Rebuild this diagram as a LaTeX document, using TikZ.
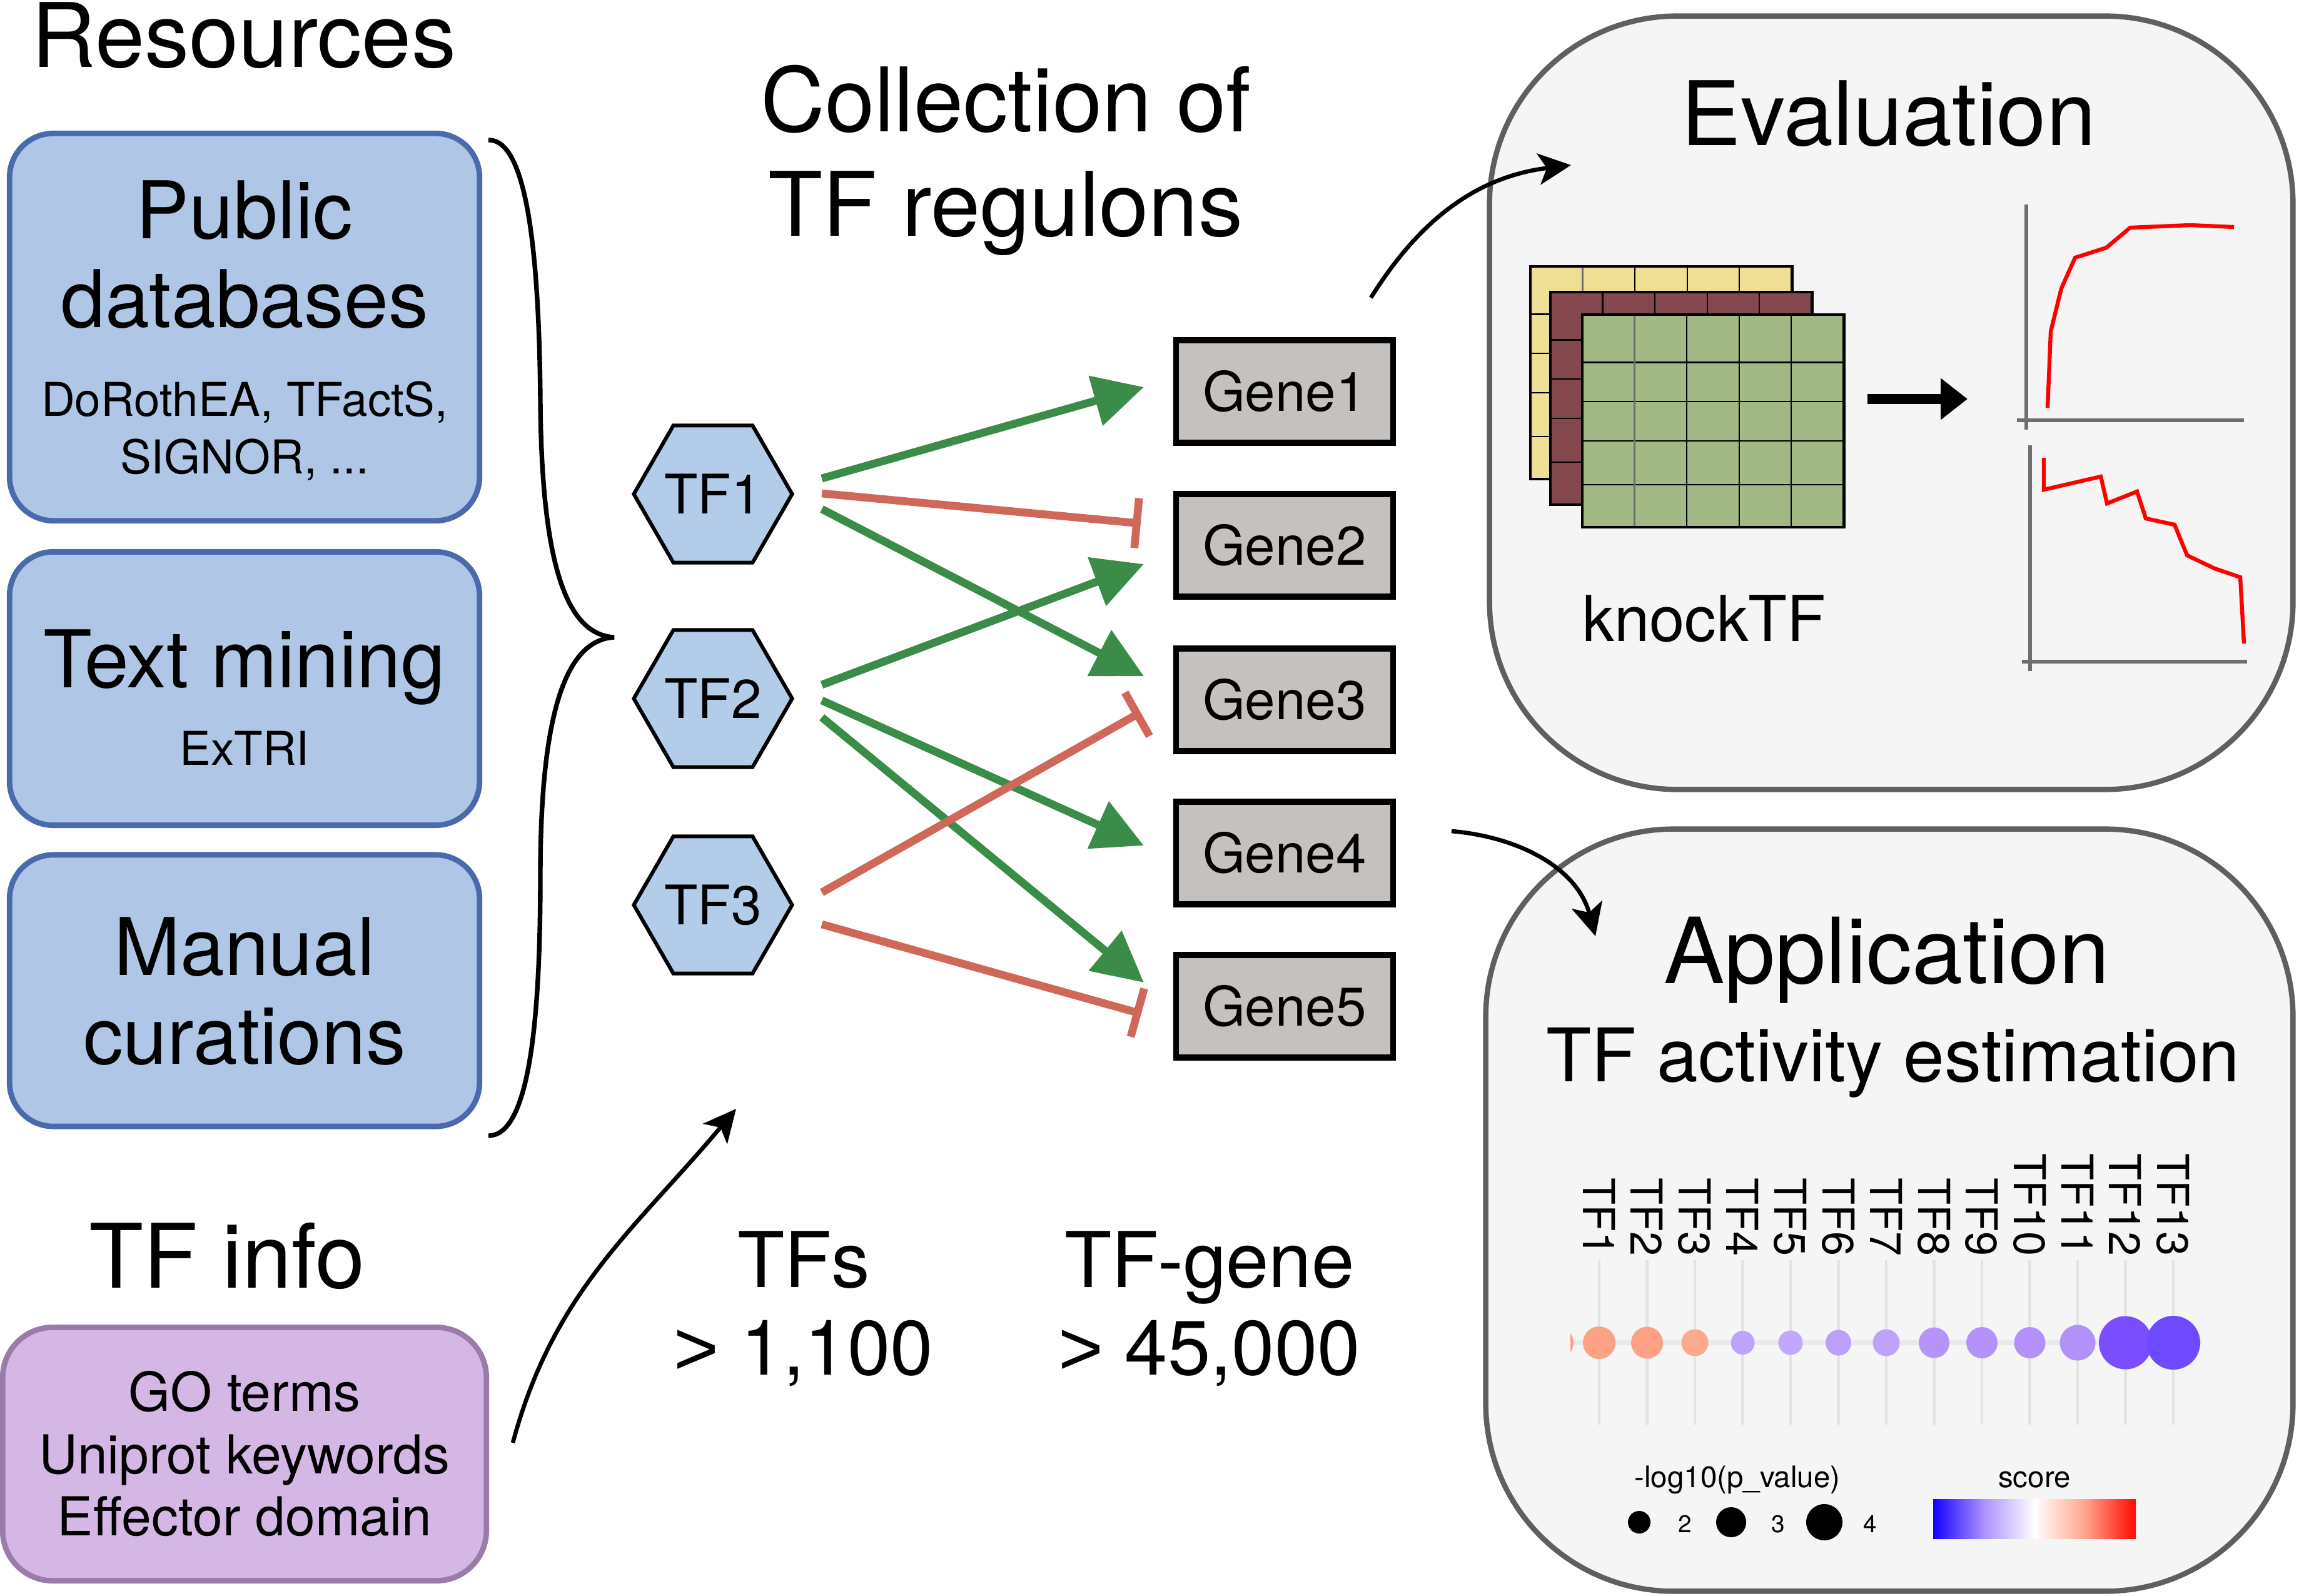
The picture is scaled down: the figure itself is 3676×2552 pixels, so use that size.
\documentclass[tikz,border=0pt]{standalone}
\usepackage{fontspec}
\setmainfont{TeX Gyre Heros}
\newfontfamily\gtfont{Liberation Sans}
\usetikzlibrary{arrows.meta,shapes.geometric,calc}
\definecolor{resfill}{HTML}{B0C6E7}
\definecolor{resdraw}{HTML}{4A6AAC}
\definecolor{infofill}{HTML}{D4B7E5}
\definecolor{infodraw}{HTML}{9B7BAA}
\definecolor{hexfill}{HTML}{B2CCEA}
\definecolor{genefill}{HTML}{C5C1BF}
\definecolor{actgreen}{HTML}{3A8C48}
\definecolor{inhred}{HTML}{D0685A}
\definecolor{panelfill}{HTML}{F5F5F5}
\definecolor{paneldraw}{HTML}{5F5F5F}
\definecolor{matyellow}{HTML}{EEDF94}
\definecolor{matmaroon}{HTML}{83474E}
\definecolor{matgreen}{HTML}{A2B985}
\definecolor{axisgray}{HTML}{6E6E6E}
\definecolor{gridlight}{HTML}{E3E3E3}
\definecolor{hline}{HTML}{E9E9E9}
\definecolor{dA}{HTML}{FEA185}
\definecolor{dB}{HTML}{FEA185}
\definecolor{dC}{HTML}{FEA88C}
\definecolor{dD}{HTML}{BEA3FE}
\definecolor{dE}{HTML}{C2A7FE}
\definecolor{dF}{HTML}{BB9EFD}
\definecolor{dG}{HTML}{BEA2FD}
\definecolor{dH}{HTML}{B794FB}
\definecolor{dI}{HTML}{B592FB}
\definecolor{dJ}{HTML}{B390FA}
\definecolor{dK}{HTML}{B291F8}
\definecolor{dL}{HTML}{7A4DFE}
\definecolor{dM}{HTML}{6E49FE}
\definecolor{barblue}{HTML}{1400FF}
\definecolor{barlav}{HTML}{AC92FF}
\definecolor{barsal}{HTML}{FFA58C}
\definecolor{barred}{HTML}{FF0A00}
\newcommand\fsHead{\fontsize{40.5}{48}\selectfont}
\newcommand\fsHeadL{\fontsize{41.5}{48}\selectfont}
\newcommand\fsBox{\fontsize{36.2}{42}\selectfont}
\newcommand\fsNum{\fontsize{35}{42}\selectfont}
\newcommand\fsSub{\fontsize{21.2}{24}\selectfont}
\newcommand\fsInfo{\fontsize{24.4}{28}\selectfont}
\newcommand\fsNode{\fontsize{24.8}{28}\selectfont}
\newcommand\fsKnock{\fontsize{28.8}{34}\selectfont}
\newcommand\fsTFA{\fontsize{33.6}{38}\selectfont}
\newcommand\fsLab{\fontsize{20}{24}\selectfont}
\newcommand\fsLeg{\fontsize{13.5}{16}\selectfont}
\newcommand\fsTick{\fontsize{11}{13}\selectfont}
\newcommand\gtsym{{\gtfont >}}
\newcommand\knockmat[4]{%
  \fill[#3] (#1,#2) rectangle ++(418,340);
  \foreach \fr in {0.225,0.41,0.595,0.80} \draw[line width=0.6pt] (#1,{#2+340*\fr}) -- ++(418,0);
  \foreach \k in {2,3,4} \draw[line width=0.6pt] ({#1+83.6*\k},#2) -- ++(0,340);
  \draw[line width=0.9pt,#4] ({#1+83.6},#2) -- ++(0,340);
  \draw[line width=1.4pt] (#1,#2) rectangle ++(418,340);
}
\tikzset{
  txt/.style={inner sep=0pt, anchor=base},
  resbox/.style={draw=resdraw, fill=resfill, line width=2.5pt, rounded corners=0.7cm, minimum width=7.51cm, inner sep=0pt},
  infobox/.style={draw=infodraw, fill=infofill, line width=2.5pt, rounded corners=0.8cm, inner sep=0pt},
  tfhex/.style={regular polygon, regular polygon sides=6, draw=black, fill=hexfill, line width=1.7pt, minimum size=2.47cm, inner sep=0pt, font=\fsNode},
  genebox/.style={draw=black, fill=genefill, line width=2.6pt, minimum width=3.47cm, minimum height=1.64cm, inner sep=0pt, font=\fsNode},
  act/.style={draw=actgreen, line width=3.6pt, -{Triangle[length=0.8cm,width=0.8cm]}},
  inh/.style={draw=inhred, line width=3.6pt, -{Bar[width=0.8cm]}},
  flow/.style={draw=black, line width=1.9pt, -{Stealth[length=0.52cm,width=0.5cm,inset=0.13cm]}},
  panel/.style={draw=paneldraw, fill=panelfill, line width=2.4pt, rounded corners=3cm, inner sep=0pt},
  axisline/.style={draw=axisgray, line width=1.5pt},
  redcurve/.style={draw=red, line width=1.8pt},
  tflab/.style={rotate=-90, anchor=east, inner sep=0pt, font=\fsLab},
}
\begin{document}
\begin{tikzpicture}[x=0.01cm,y=-0.01cm]
\fill[white] (0,0) rectangle (3676,2552);
\useasboundingbox (0,0) rectangle (3676,2552);

% ---------- Resources ----------
\node[txt, font=\fsHead] (resT) at (390,108) {Resources};
\node[resbox, minimum height=6.19cm] (pub) at (391,523) {};
\node[txt, font=\fsBox] (pubA) at (391,382) {Public};
\node[txt, font=\fsBox] (pubB) at (391,524) {databases};
\node[txt, font=\fsSub] (pubC) at (391,666) {DoRothEA, TFactS,};
\node[txt, font=\fsSub] (pubD) at (391,757) {SIGNOR, ...};
\node[resbox, minimum height=4.37cm] (txm) at (391,1101) {};
\node[txt, font=\fsBox] (txmA) at (391,1099) {Text mining};
\node[txt, font=\fsSub] (txmB) at (391,1223) {ExTRI};
\node[resbox, minimum height=4.34cm] (man) at (391,1584) {};
\node[txt, font=\fsBox] (manA) at (391,1559) {Manual};
\node[txt, font=\fsBox] (manB) at (391,1701) {curations};

% brace
\draw[line width=2.1pt] (781,224) .. controls (845,222) and (862,420) .. (864,640)
  .. controls (866,930) and (915,1015) .. (982,1019)
  .. controls (915,1023) and (864,1110) .. (864,1400)
  .. controls (864,1640) and (845,1816) .. (781,1816);

% ---------- TF info ----------
\node[txt, font=\fsHead] (infoT) at (363,2059) {TF info};
\node[infobox, minimum width=7.73cm, minimum height=4.05cm] (info) at (391,2325) {};
\node[txt, font=\fsInfo] (infoA) at (391,2256) {GO terms};
\node[txt, font=\fsInfo] (infoB) at (391,2356) {Uniprot keywords};
\node[txt, font=\fsInfo] (infoC) at (391,2455) {Effector domain};
\coordinate (infS) at (820,2307);
\coordinate (infE) at (1177,1773);
\draw[flow] (infS) to[out=75,in=-130] (infE);

% ---------- Collection ----------
\node[txt, font=\fsHead] (colA) at (1608,211) {Collection of};
\node[txt, font=\fsHead] (colB) at (1608,378) {TF regulons};

\node[tfhex] (tf1) at (1140,790) {TF1};
\node[tfhex] (tf2) at (1140,1117) {TF2};
\node[tfhex] (tf3) at (1140,1447) {TF3};

\node[genebox] (g1) at (2054,626) {Gene1};
\node[genebox] (g2) at (2054,872) {Gene2};
\node[genebox] (g3) at (2054,1119) {Gene3};
\node[genebox] (g4) at (2054,1364) {Gene4};
\node[genebox] (g5) at (2054,1609) {Gene5};

\draw[act] ($(tf1.east)+(44,-25)$) -- ($(g1.west)+(-47,-7)$);
\draw[act] ($(tf1.east)+(44,24)$) -- ($(g3.west)+(-47,-38)$);
\draw[act] ($(tf2.east)+(44,-22)$) -- ($(g2.west)+(-47,30)$);
\draw[act] ($(tf2.east)+(44,3)$) -- ($(g4.west)+(-47,-12)$);
\draw[act] ($(tf2.east)+(44,30)$) -- ($(g5.west)+(-47,-38)$);
\draw[inh] ($(tf1.east)+(44,-1)$) -- ($(g2.west)+(-52,-35)$);
\draw[inh] ($(tf3.east)+(44,-20)$) -- ($(g3.west)+(-52,20)$);
\draw[inh] ($(tf3.east)+(44,31)$) -- ($(g5.west)+(-51,12)$);

\node[txt, font=\fsNum] (nTFa) at (1285,2058) {TFs};
\node[txt, font=\fsNum] (nTFb) at (1285,2198) {\gtsym\ 1,100};
\node[txt, font=\fsNum] (nTGa) at (1934,2058) {TF-gene};
\node[txt, font=\fsNum] (nTGb) at (1934,2198) {\gtsym\ 45,000};

% ---------- Evaluation panel ----------
\node[panel, minimum width=12.84cm, minimum height=12.36cm] (evalp) at (3024,644) {};
\node[txt, font=\fsHead] (evalT) at (3020,233) {Evaluation};
\knockmat{2447}{426}{matyellow}{axisgray}
\knockmat{2479}{467}{matmaroon}{black}
\knockmat{2530}{503}{matgreen}{axisgray}
\node[txt, font=\fsKnock] (knock) at (2725,1025) {knockTF};
\coordinate (matS) at (2986,638);
\coordinate (matE) at (3146,638);
\draw[line width=4.5pt, -{Triangle[length=0.43cm,width=0.64cm]}] (matS) -- (matE);
\draw[axisline] (3240,327) -- (3240,687);
\draw[axisline] (3225,672) -- (3588,672);
\draw[redcurve] (3274,652) -- (3279,530) -- (3296,461) -- (3318,412) -- (3368,396) -- (3406,364) -- (3502,360) -- (3572,363);
\draw[axisline] (3246,712) -- (3246,1073);
\draw[axisline] (3233,1058) -- (3593,1058);
\draw[redcurve] (3268,732) -- (3268,783) -- (3359,762) -- (3369,805) -- (3417,786) -- (3431,829) -- (3477,839) -- (3497,888) -- (3541,909) -- (3582,923) -- (3588,1029);

% ---------- Application panel ----------
\node[panel, minimum width=12.90cm, minimum height=12.18cm] (appp) at (3021,1935) {};
\node[txt, font=\fsHeadL] (appT) at (3017,1572) {Application};
\node[txt, font=\fsTFA] (appS) at (3027,1729) {TF activity estimation};
\draw[hline, line width=2.4pt] (2511,2147) -- (3521,2147);
\foreach \k in {1,...,13} {
  \draw[gridlight, line width=1.3pt] ({2557+76.5*(\k-1)},2015) -- ({2557+76.5*(\k-1)},2278);
}
\begin{scope}
  \clip (2511,2100) rectangle (2530,2200);
  \fill[dA] (2490,2147) circle (26);
\end{scope}
\foreach \k/\r/\c in {1/26/dA,2/25.5/dB,3/21.5/dC,4/19/dD,5/19.5/dE,6/20.5/dF,7/21.5/dG,8/24.5/dH,9/25/dI,10/25/dJ,11/28.5/dK,12/42.5/dL,13/43/dM} {
  \fill[\c] ({2557+76.5*(\k-1)},2147) circle (\r);
  \node[tflab] (lab\k) at ({2557+76.5*(\k-1)},2009) {TF\k};
}
\node[txt, font=\fsLeg] (legA) at (2778,2378) {-log10(p\_value)};
\node[txt, font=\fsLeg] (legB) at (3253,2378) {score};
\fill[black] (2621,2434) circle (18);
\fill[black] (2768,2434) circle (24);
\fill[black] (2917,2434) circle (29);
\node[txt, font=\fsTick] (lg2) at (2694,2450) {2};
\node[txt, font=\fsTick] (lg3) at (2843,2450) {3};
\node[txt, font=\fsTick] (lg4) at (2990,2450) {4};
\shade[left color=barblue, right color=white, middle color=barlav] (3091,2397) rectangle (3254,2460);
\shade[left color=white, right color=barred, middle color=barsal] (3253,2397) rectangle (3415,2460);

% ---------- connecting arrows ----------
\coordinate (evS) at (2192,476);
\coordinate (evE) at (2512,264);
\draw[flow] (evS) to[out=58,in=187] (evE);
\coordinate (apS) at (2321,1329);
\coordinate (apE) at (2551,1497);
\draw[flow] (apS) to[out=-5,in=105] (apE);
\end{tikzpicture}
\end{document}
